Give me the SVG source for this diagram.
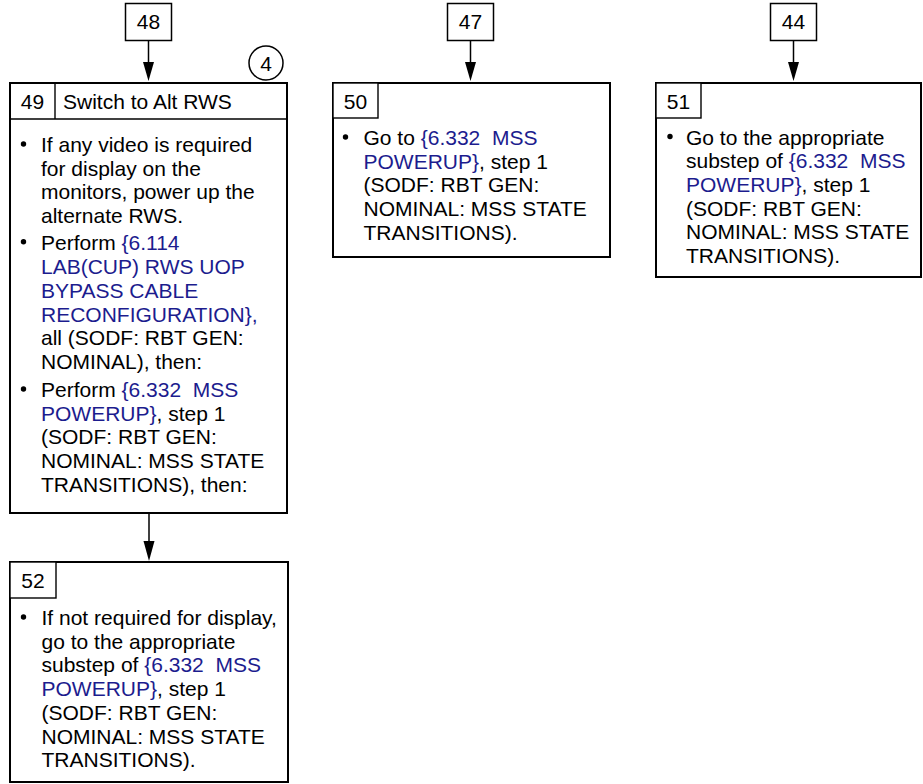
<svg xmlns="http://www.w3.org/2000/svg" width="923" height="784" viewBox="0 0 923 784">
<style>
text{font-family:"Liberation Sans",Arial,sans-serif;font-size:21px;fill:#000;white-space:pre}
.l{fill:#1c1c8e}
.box{fill:#fff;stroke:#000;stroke-width:2}
.hd{fill:#fff;stroke:#000;stroke-width:1.4}
.ref{fill:#fff;stroke:#000;stroke-width:1.5}
.c{text-anchor:middle}
.con{stroke:#000;stroke-width:1.5;fill:none}
.ah{fill:#000}
.b{fill:#000}
</style>
<g id="connectors">
<line class="con" x1="148.5" y1="40" x2="148.5" y2="63"/>
<polygon class="ah" points="143,62 154,62 148.5,81"/>
<line class="con" x1="470.5" y1="40" x2="470.5" y2="63"/>
<polygon class="ah" points="465,62 476,62 470.5,81"/>
<line class="con" x1="793.5" y1="40" x2="793.5" y2="63"/>
<polygon class="ah" points="788,62 799,62 793.5,81"/>
<line class="con" x1="149" y1="514" x2="149" y2="542"/>
<polygon class="ah" points="143.5,541 154.5,541 149,561"/>
</g>
<g id="n48">
<rect class="ref" x="125.5" y="3.5" width="46" height="37"/>
<text class="c" x="148.5" y="29">48</text>
</g>
<g id="n47">
<rect class="ref" x="447.5" y="3.5" width="46" height="37"/>
<text class="c" x="470.5" y="29">47</text>
</g>
<g id="n44">
<rect class="ref" x="770.5" y="3.5" width="46" height="37"/>
<text class="c" x="793.5" y="29">44</text>
</g>
<g id="marker4">
<circle cx="266" cy="63" r="17" fill="#fff" stroke="#000" stroke-width="1.5"/>
<text class="c" x="266" y="70.5">4</text>
</g>
<g id="n49">
<rect class="box" x="10" y="83" width="277" height="430"/>
<line class="hd" x1="10" y1="119" x2="287" y2="119"/>
<line class="hd" x1="55" y1="83" x2="55" y2="119"/>
<text class="c" x="32.5" y="109">49</text>
<text x="63" y="109">Switch to Alt RWS</text>
<circle class="b" cx="23.5" cy="144" r="2.7"/>
<text x="41" y="152">If any video is required</text>
<text x="41" y="175.7">for display on the</text>
<text x="41" y="199.4">monitors, power up the</text>
<text x="41" y="223.1">alternate RWS.</text>
<circle class="b" cx="23.5" cy="241.8" r="2.7"/>
<text x="41" y="249.8">Perform <tspan class="l">{6.114</tspan></text>
<text x="41" y="274" class="l">LAB(CUP) RWS UOP</text>
<text x="41" y="297.8" class="l">BYPASS CABLE</text>
<text x="41" y="321.6" class="l">RECONFIGURATION},</text>
<text x="41" y="345.4">all (SODF: RBT GEN:</text>
<text x="41" y="369.2">NOMINAL), then:</text>
<circle class="b" cx="23.5" cy="389" r="2.7"/>
<text x="41" y="397">Perform <tspan class="l">{6.332  MSS</tspan></text>
<text x="41" y="420.7"><tspan class="l">POWERUP}</tspan>, step 1</text>
<text x="41" y="444.4">(SODF: RBT GEN:</text>
<text x="41" y="468.1">NOMINAL: MSS STATE</text>
<text x="41" y="491.8">TRANSITIONS), then:</text>
</g>
<g id="n50">
<rect class="box" x="333" y="83" width="277" height="174"/>
<rect class="hd" x="333" y="83" width="45" height="35"/>
<text class="c" x="355.5" y="109">50</text>
<circle class="b" cx="345.5" cy="137" r="2.7"/>
<text x="363.5" y="145">Go to <tspan class="l">{6.332  MSS</tspan></text>
<text x="363.5" y="168.7"><tspan class="l">POWERUP}</tspan>, step 1</text>
<text x="363.5" y="192.4">(SODF: RBT GEN:</text>
<text x="363.5" y="216.1">NOMINAL: MSS STATE</text>
<text x="363.5" y="239.8">TRANSITIONS).</text>
</g>
<g id="n51">
<rect class="box" x="656" y="83" width="265" height="194"/>
<rect class="hd" x="656" y="83" width="45" height="35"/>
<text class="c" x="678.5" y="109">51</text>
<circle class="b" cx="670" cy="136.5" r="2.7"/>
<text x="686" y="144.5">Go to the appropriate</text>
<text x="686" y="168.2">substep of <tspan class="l">{6.332  MSS</tspan></text>
<text x="686" y="191.9"><tspan class="l">POWERUP}</tspan>, step 1</text>
<text x="686" y="215.6">(SODF: RBT GEN:</text>
<text x="686" y="239.3">NOMINAL: MSS STATE</text>
<text x="686" y="263">TRANSITIONS).</text>
</g>
<g id="n52">
<rect class="box" x="10" y="562" width="278" height="220"/>
<rect class="hd" x="10" y="562" width="46" height="36"/>
<text class="c" x="33" y="588">52</text>
<circle class="b" cx="23.5" cy="617" r="2.7"/>
<text x="41.5" y="625">If not required for display,</text>
<text x="41.5" y="648.7">go to the appropriate</text>
<text x="41.5" y="672.4">substep of <tspan class="l">{6.332  MSS</tspan></text>
<text x="41.5" y="696.1"><tspan class="l">POWERUP}</tspan>, step 1</text>
<text x="41.5" y="719.8">(SODF: RBT GEN:</text>
<text x="41.5" y="743.5">NOMINAL: MSS STATE</text>
<text x="41.5" y="767.2">TRANSITIONS).</text>
</g>
</svg>
